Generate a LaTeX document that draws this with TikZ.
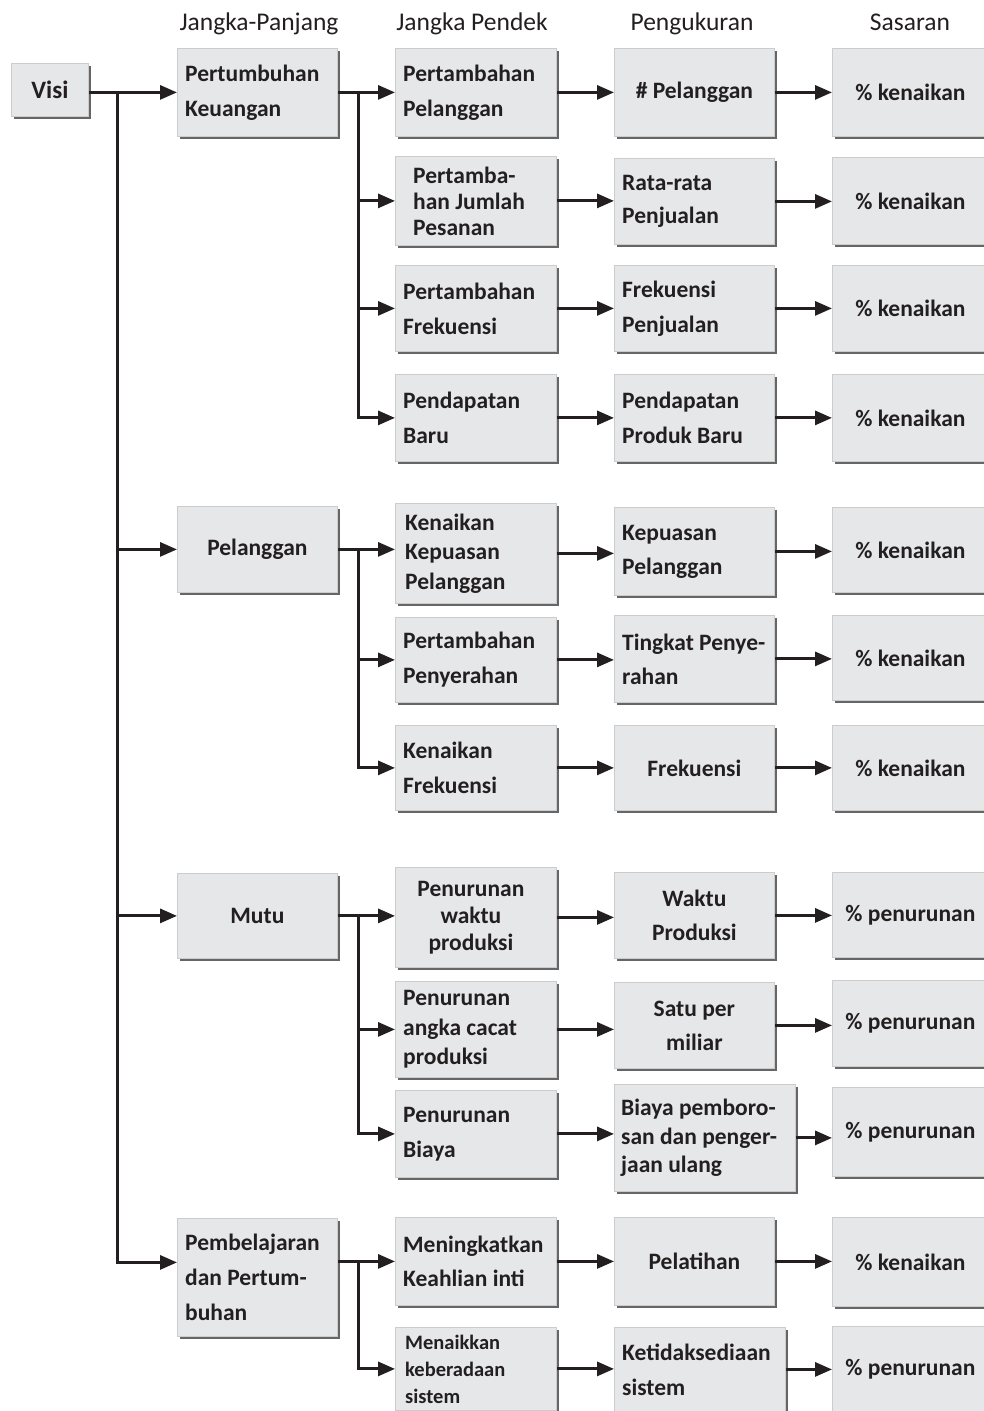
\documentclass[tikz,border=0pt]{standalone}
\usepackage{fontspec}
\setmainfont{Carlito}
\usetikzlibrary{arrows.meta,shadows,calc}
\definecolor{boxfill}{HTML}{E6E7E8}
\definecolor{ink}{HTML}{231F20}
\tikzset{
 box/.style={fill=boxfill, draw=black!20, line width=0.8pt, inner sep=0pt,
   drop shadow={shadow xshift=2.5pt, shadow yshift=-2.5pt, fill=black!75, opacity=0.8}},
 txt/.style={text=ink, font=\bfseries\fontsize{23.5}{35}\selectfont, inner sep=0pt},
 tri/.style={font=\bfseries\fontsize{23.5}{28.5}\selectfont},
 arr/.style={draw=ink, line width=3pt, -{Triangle[length=17pt,width=14pt]}},
 head/.style={text=ink, font=\fontsize{25.5}{30}\selectfont, anchor=base, inner sep=0pt},
}
% centred text box: [text opts]{name}{left}{top}{right}{bottom}{text}
\newcommand\bx[7][]{%
 \pgfmathsetmacro\bxw{#5-#3}\pgfmathsetmacro\bxh{#6-#4}%
 \node[box, anchor=north west, minimum width=\bxw pt, minimum height=\bxh pt] (#2) at (#3,#4) {};%
 \node[txt, align=center, #1] (#2-t) at (#2.center) {#7};}
% left aligned text box
\newcommand\bxL[7][]{%
 \pgfmathsetmacro\bxw{#5-#3}\pgfmathsetmacro\bxh{#6-#4}%
 \node[box, anchor=north west, minimum width=\bxw pt, minimum height=\bxh pt] (#2) at (#3,#4) {};%
 \node[txt, align=left, anchor=west, xshift=8pt, #1] (#2-t) at (#2.west) {#7};}
\begin{document}
\begin{tikzpicture}[x=1pt,y=-1pt]
\useasboundingbox (0,0) rectangle (984,1411);

% headings
\node[head] (h1) at (259,30) {Jangka-Panjang};
\node[head] (h2) at (472,30) {Jangka Pendek};
\node[head] (h3) at (692,30) {Pengukuran};
\node[head] (h4) at (910,30) {Sasaran};

% column 0 / 1
\bx[font=\bfseries\fontsize{25}{30}\selectfont]{visi}{11}{63}{88}{116}{Visi}
\bxL{K1}{177}{48}{337}{136}{Pertumbuhan\\Keuangan}
\bx{P1}{177}{506}{337}{592}{Pelanggan}
\bx{M1}{177}{873}{337}{958}{Mutu}
\bxL{L1}{177}{1218}{337}{1336}{Pembelajaran\\dan Pertum-\\buhan}

% column 2
\bxL{A1}{395}{48}{556}{136}{Pertambahan\\Pelanggan}
\bxL[font=\bfseries\fontsize{23.5}{26}\selectfont, xshift=10pt]{A2}{395}{156}{556}{245}{Pertamba-\\han Jumlah\\Pesanan}
\bxL{A3}{395}{265}{556}{351}{Pertambahan\\Frekuensi}
\bxL{A4}{395}{374}{556}{461}{Pendapatan\\Baru}
\bxL[font=\bfseries\fontsize{23.5}{29.5}\selectfont, xshift=2pt]{B1}{395}{503}{556}{603}{Kenaikan\\Kepuasan\\Pelanggan}
\bxL{B2}{395}{617}{556}{702}{Pertambahan\\Penyerahan}
\bxL{B3}{395}{725}{556}{810}{Kenaikan\\Frekuensi}
\bx[font=\bfseries\fontsize{23.5}{27}\selectfont, xshift=-5pt]{C1}{395}{867}{556}{967}{Penurunan\\waktu\\produksi}
\bxL[font=\bfseries\fontsize{23.5}{29.5}\selectfont]{C2}{395}{981}{556}{1077}{Penurunan\\angka cacat\\produksi}
\bxL{C3}{395}{1090}{556}{1177}{Penurunan\\Biaya}
\bxL[font=\bfseries\fontsize{23.5}{34}\selectfont]{D1}{395}{1217}{556}{1305}{Meningkatkan\\Keahlian inti}
\bxL[font=\bfseries\fontsize{20.5}{27}\selectfont, xshift=2pt]{D2}{395}{1327}{556}{1410}{Menaikkan\\keberadaan\\sistem}

% column 3
\bx{E1}{614}{48}{774}{136}{\# Pelanggan}
\bxL[font=\bfseries\fontsize{23.5}{33}\selectfont]{E2}{614}{158}{774}{244}{Rata-rata\\Penjualan}
\bxL{E3}{614}{265}{774}{351}{Frekuensi\\Penjualan}
\bxL{E4}{614}{374}{774}{461}{Pendapatan\\Produk Baru}
\bxL[font=\bfseries\fontsize{23.5}{34}\selectfont]{F1}{614}{507}{774}{595}{Kepuasan\\Pelanggan}
\bxL[font=\bfseries\fontsize{23.5}{34}\selectfont]{F2}{614}{615}{774}{702}{Tingkat Penye-\\rahan}
\bx{F3}{614}{725}{774}{810}{Frekuensi}
\bx[font=\bfseries\fontsize{23.5}{34}\selectfont]{G1}{614}{872}{774}{958}{Waktu\\Produksi}
\bx[font=\bfseries\fontsize{23.5}{34}\selectfont]{G2}{614}{982}{774}{1068}{Satu per\\miliar}
\bxL[tri, xshift=-1pt]{G3}{614}{1084}{795}{1191}{Biaya pemboro-\\san dan penger-\\jaan ulang}
\bx{H1}{614}{1217}{774}{1305}{Pelatihan}
\bxL{H2}{614}{1327}{785}{1411}{Ketidaksediaan\\sistem}

% column 4
\bx{S1}{832}{48}{988}{136}{\% kenaikan}
\bx{S2}{832}{157}{988}{244}{\% kenaikan}
\bx{S3}{832}{265}{988}{351}{\% kenaikan}
\bx{S4}{832}{374}{988}{461}{\% kenaikan}
\bx{S5}{832}{507}{988}{592}{\% kenaikan}
\bx{S6}{832}{615}{988}{700}{\% kenaikan}
\bx{S7}{832}{725}{988}{810}{\% kenaikan}
\bx{S8}{832}{872}{988}{957}{\% penurunan}
\bx{S9}{832}{980}{988}{1066}{\% penurunan}
\bx{S10}{832}{1087}{988}{1176}{\% penurunan}
\bx{S11}{832}{1217}{988}{1306}{\% kenaikan}
\bx{S12}{832}{1326}{988}{1411}{\% penurunan}

% trunk from Visi
\draw[arr] (visi.east |- K1.west) -- (K1.west);
\path (visi.east |- K1.west) ++(29,0) coordinate (j0);
\draw[arr] (j0) |- (P1.west);
\draw[arr] (j0) |- (M1.west);
\draw[arr] (j0) |- ([yshift=15pt]L1.west);

% Keuangan branch
\draw[arr] (K1.east) -- (A1.west);
\path (K1.east) ++(21,0) coordinate (j1);
\draw[arr] (j1) |- (A2.west);
\draw[arr] (j1) |- (A3.west);
\draw[arr] (j1) |- (A4.west);

% Pelanggan branch
\draw[arr] (P1.east) -- (P1.east -| B1.west);
\path (P1.east) ++(21,0) coordinate (j2);
\draw[arr] (j2) |- (B2.west);
\draw[arr] (j2) |- (B3.west);

% Mutu branch
\draw[arr] (M1.east) -- (M1.east -| C1.west);
\path (M1.east) ++(21,0) coordinate (j3);
\draw[arr] (j3) |- (C2.west);
\draw[arr] (j3) |- (C3.west);

% Pembelajaran branch
\draw[arr] (L1.east |- D1.west) -- (D1.west);
\path (L1.east |- D1.west) ++(21,0) coordinate (j4);
\draw[arr] (j4) |- (D2.west);

% column 2 -> column 3
\foreach \a/\b in {A1/E1,A2/E2,A3/E3,A4/E4,B1/F1,B2/F2,B3/F3,C1/G1,C2/G2,C3/G3,D1/H1,D2/H2}
  \draw[arr] (\a.east) -- (\a.east -| \b.west);
% column 3 -> column 4
\foreach \a/\b in {E1/S1,E2/S2,E3/S3,E4/S4,F1/S5,F2/S6,F3/S7,G1/S8,G2/S9,G3/S10,H1/S11,H2/S12}
  \draw[arr] (\a.east) -- (\a.east -| \b.west);
\end{tikzpicture}
\end{document}
